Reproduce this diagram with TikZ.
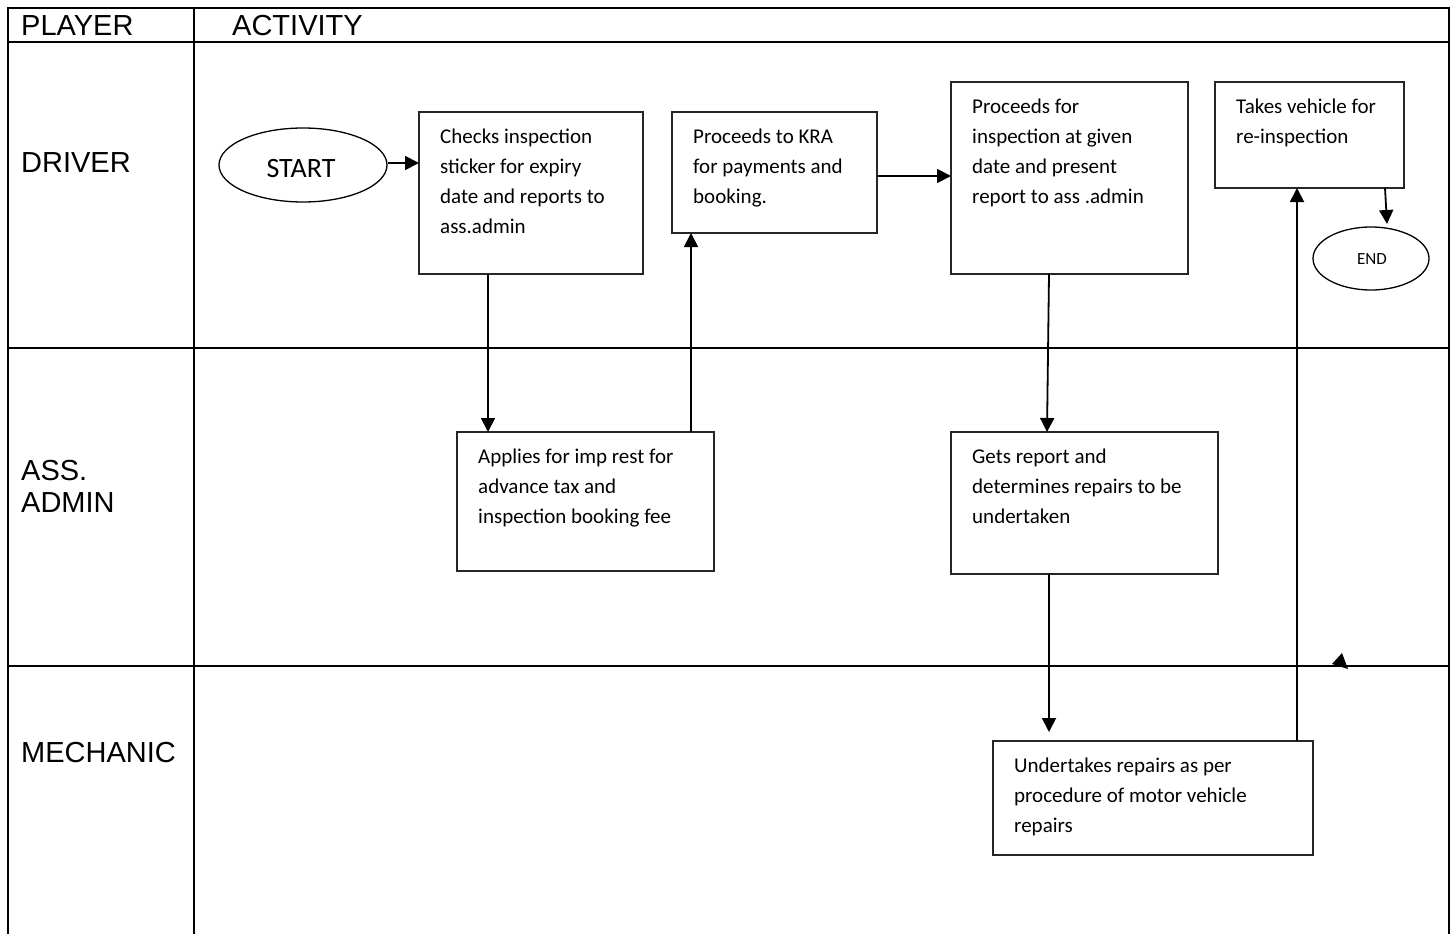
\documentclass[tikz,border=0pt]{standalone}
\usepackage{fontspec}
\setmainfont{Carlito}
\newfontfamily\arialf{Liberation Sans}
\usetikzlibrary{arrows.meta,shapes.geometric}
\begin{document}
\begin{tikzpicture}[x=1pt,y=-1pt,
  grid/.style={line width=2.6pt,black},
  boxshape/.style={draw=black!85,line width=1.3pt,rectangle,inner sep=0pt,outer sep=0pt,anchor=north west},
  txt/.style={font=\fontsize{21}{30}\selectfont,align=left,inner sep=0pt,anchor=north west},
  lab/.style={font=\arialf\fontsize{29}{32}\selectfont,inner sep=0pt,anchor=base west},
  term/.style={draw=black,line width=1.3pt,ellipse,inner sep=0pt},
  arr/.style={line width=1.8pt,-{Triangle[length=14pt,width=14pt]}}
]
\useasboundingbox (0,0) rectangle (1455,934);
% table
\draw[grid] (8,934) -- (8,8) -- (1449,8) -- (1449,934);
\draw[grid] (194,8) -- (194,934);
\draw[grid] (8,42) -- (1449,42);
\draw[grid] (8,348) -- (1449,348);
\draw[grid] (8,666) -- (1449,666);
% labels
\node[lab] (lplayer) at (21,36) {PLAYER};
\node[lab] (lact) at (232,36) {ACTIVITY};
\node[lab] (ldriver) at (21,172) {DRIVER};
\node[lab,align=left,anchor=north west] (ladmin) at (21,457.6) {\strut ASS.\\ADMIN};
\node[lab] (lmech) at (21,762) {MECHANIC};
% terminals
\node[term,minimum width=168pt,minimum height=74pt] (start) at (303,165) {};
\node[font=\fontsize{28}{30}\selectfont,inner sep=0pt,anchor=base] (starttxt) at (301,177) {START};
\node[term,minimum width=116pt,minimum height=63pt] (end) at (1371,258.5) {};
\node[font=\fontsize{17}{20}\selectfont,inner sep=0pt,anchor=base] (endtxt) at (1372,264) {END};
% boxes
\node[boxshape,minimum width=224pt,minimum height=162pt] (b1) at (419,112) {};
\node[txt] (t1) at (440,122) {\strut Checks inspection\\sticker for expiry\\date and reports to\\ass.admin};
\node[boxshape,minimum width=205pt,minimum height=121pt] (b2) at (672,112) {};
\node[txt] (t2) at (693,122) {\strut Proceeds to KRA\\for payments and\\booking.};
\node[boxshape,minimum width=237pt,minimum height=192pt] (b3) at (951,82) {};
\node[txt] (t3) at (972,92) {\strut Proceeds for\\inspection at given\\date and present\\report to ass .admin};
\node[boxshape,minimum width=189pt,minimum height=106pt] (b4) at (1215,82) {};
\node[txt] (t4) at (1236,92) {\strut Takes vehicle for\\re-inspection};
\node[boxshape,minimum width=257pt,minimum height=139pt] (b5) at (457,432) {};
\node[txt] (t5) at (478,442) {\strut Applies for imp rest for\\advance tax and\\inspection booking fee};
\node[boxshape,minimum width=267pt,minimum height=142pt] (b6) at (951,432) {};
\node[txt] (t6) at (972,442) {\strut Gets report and\\determines repairs to be\\undertaken};
\node[boxshape,minimum width=320pt,minimum height=114pt] (b7) at (993,741) {};
\node[txt] (t7) at (1014,751) {\strut Undertakes repairs as per\\procedure of motor vehicle\\repairs};
% connector x positions
\coordinate (xa) at (488,0);
\coordinate (xb) at (691,0);
\coordinate (xc) at (1297,0);
\coordinate (ya) at (0,163);
\coordinate (yb) at (0,176);
\coordinate (endin) at (1387,224);
% connectors
\draw[arr] (start.east |- ya) -- (b1.west |- ya);
\draw[arr] (b1.south -| xa) -- (b5.north -| xa);
\draw[arr] (b5.north -| xb) -- (b2.south -| xb);
\draw[arr] (b2.east |- yb) -- (b3.west |- yb);
\draw[arr] ([xshift=98pt]b3.south west) -- ([xshift=96pt]b6.north west);
\draw[arr,shorten >=9pt] ([xshift=98pt]b6.south west) -- ([xshift=98pt]b6.south west |- b7.north);
\draw[arr] (b7.north -| xc) -- (b4.south -| xc);
\draw[arr] ([xshift=170pt]b4.south west) -- (endin);
% stray arrowhead
\fill (1342,653) -- (1332,664) -- (1348,669) -- cycle;
\end{tikzpicture}
\end{document}
